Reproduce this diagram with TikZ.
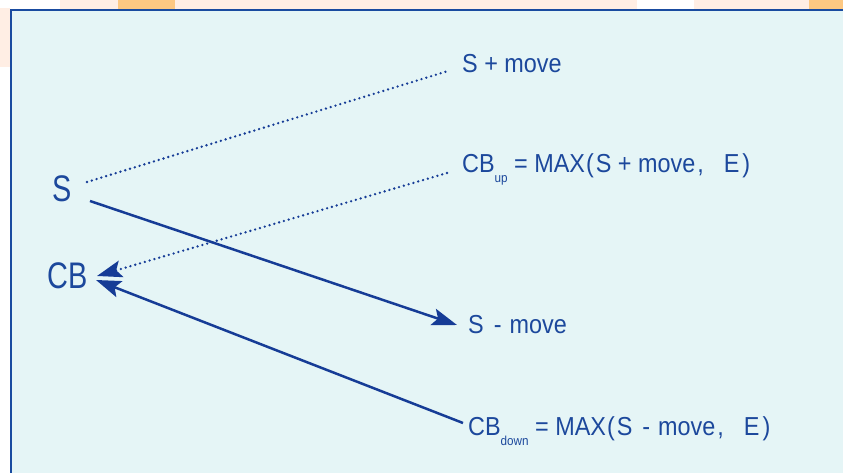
\documentclass[tikz,border=0pt]{standalone}
\usepackage{fontspec}
\setmainfont{Liberation Sans}
\newfontfamily\lblfont[FakeStretch=0.9]{Liberation Sans}
\newfontfamily\bigfont[FakeStretch=0.78]{Liberation Sans}
\usetikzlibrary{arrows.meta}
\definecolor{txtblue}{RGB}{28,72,156}
\definecolor{lineblue}{RGB}{22,60,150}
\definecolor{panelbg}{RGB}{229,245,246}
\definecolor{panelborder}{RGB}{25,75,160}
\definecolor{stripbg}{RGB}{255,238,228}
\definecolor{stripor}{RGB}{253,200,130}
\newcommand\subtxt[1]{\raisebox{-10pt}{\fontsize{13}{14}\selectfont #1}}
\newcommand\mdash{\hspace{10pt}-\hspace{8pt}}
\begin{document}
\begin{tikzpicture}[x=1pt,y=-1pt,
  lbl/.style={text=txtblue, font=\lblfont\fontsize{26}{30}\selectfont, inner sep=0pt, anchor=base west},
  big/.style={text=txtblue, font=\bigfont\fontsize{37}{40}\selectfont, inner sep=0pt, anchor=base west},
  dotline/.style={draw=lineblue, line width=2.6pt, dash pattern=on 0pt off 5pt, line cap=round},
  solidline/.style={draw=lineblue, line width=2.5pt},
  tip/.style={-{Stealth[length=25pt,width=17pt,inset=5pt]}},
  dottip/.style={-{Stealth[length=25pt,width=17pt,inset=5pt,line cap=butt,sep=0pt]}}
]
\useasboundingbox (0,0) rectangle (843,473);
\clip (0,0) rectangle (843,473);
% top strip
\fill[stripbg] (60,0) rectangle (637,10);
\fill[stripbg] (694,0) rectangle (843,10);
\fill[stripor] (118,0) rectangle (175,10);
\fill[stripor] (809,0) rectangle (843,10);
\fill[stripbg] (0,8) rectangle (10,67);
% panel
\draw[panelborder, line width=1.5pt, fill=panelbg] (11,10) rectangle (860,490);

% nodes
\node[big] (S) at (52,202) {S};
\node[big] (CB) at (47,288) {CB};
\node[lbl] (spm) at (462,73) {S + move};
\node[lbl] (cbup) at (462,173) {CB\subtxt{up} = MAX\hspace{1pt}(\hspace{2pt}S + move\hspace{2pt},\hspace{20pt}E\hspace{3pt})};
\node[lbl] (smm) at (468,333) {S\mdash move};
\node[lbl] (cbdn) at (468,435) {CB\subtxt{down} = MAX\hspace{1pt}(\hspace{2pt}S\mdash move\hspace{2pt},\hspace{20pt}E\hspace{3pt})};

% connector ends
\coordinate (sDot) at (87,182);
\coordinate (sSol) at (90,201);
\coordinate (spmEnd) at (448,71);
\coordinate (smmEnd) at (457,325);
\coordinate (cbupEnd) at (447,173);
\coordinate (cbdnEnd) at (463,423);
\coordinate (cbTipA) at (97,276);
\coordinate (cbTipB) at (96,280);

\draw[dotline] (sDot) -- (spmEnd);
\draw[solidline, tip] (sSol) -- (smmEnd);
\draw[dotline, dottip] (cbupEnd) -- (cbTipA);
\draw[solidline, tip] (cbdnEnd) -- (cbTipB);
\end{tikzpicture}
\end{document}
